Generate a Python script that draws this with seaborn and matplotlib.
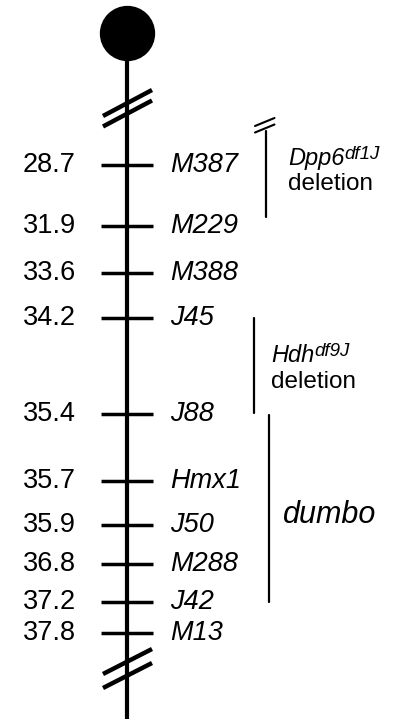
import matplotlib
matplotlib.use("Agg")
import matplotlib.pyplot as plt
import seaborn as sns
import pandas as pd

# marker data (cM position, name) and schematic row on the drawing
cm_pos = ["28.7", "31.9", "33.6", "34.2", "35.4", "35.7", "35.9", "36.8", "37.2", "37.8"]
markers = ["M387", "M229", "M388", "J45", "J88", "Hmx1", "J50", "M288", "J42", "M13"]
row_y = [165, 226, 273, 318, 414, 481, 525, 564, 602, 633]

# regions spanned on the map (start row, end row)
dpp6_span = (131, 217)
hdh_span = (318, 413)
dumbo_span = (415, 602)

sns.set_theme(style="white")
plt.rcParams["font.family"] = ["Liberation Sans", "DejaVu Sans"]
plt.rcParams["text.color"] = "black"

fig = plt.figure(figsize=(4.06, 7.19), dpi=100)
ax = fig.add_axes([0, 0, 1, 1])
ax.set_xlim(0, 406)
ax.set_ylim(719, 0)
ax.axis("off")

chrom_x = 127
df = pd.DataFrame({"cM": cm_pos, "marker": markers, "y": row_y})

# chromosome body
sns.lineplot(x=[chrom_x, chrom_x], y=[35, 719], color="black", linewidth=3, ax=ax, estimator=None, sort=False)
# centromere
sns.scatterplot(x=[chrom_x], y=[33], s=1360, color="black", edgecolor="black", ax=ax, zorder=5)

# marker ticks
sns.scatterplot(data=df, x=[chrom_x] * len(df), y="y", marker="_", s=1400, linewidth=2.5,
                color="black", ax=ax, zorder=4)

for _, r in df.iterrows():
    ax.text(76, r["y"], r["cM"], ha="right", va="center", fontsize=19.5, color="black")
    ax.text(170, r["y"], r["marker"], ha="left", va="center", fontsize=19.5, style="italic", color="black")

# break symbols on the chromosome
for y0 in (116, 126.5):
    ax.plot([103, 152], [y0, y0 - 26], color="black", lw=3.2, solid_capstyle="butt")
for y0 in (674, 688):
    ax.plot([103, 152], [y0, y0 - 25], color="black", lw=3.2, solid_capstyle="butt")

# Dpp6 deletion
ax.plot([266.5, 266.5], dpp6_span, color="black", lw=1.6)
for y0 in (126, 132.5):
    ax.plot([255, 274.5], [y0, y0 - 8], color="black", lw=1.5)
t = ax.text(288, 165, "Dpp6", fontsize=17, style="italic", va="baseline", color="black")
ax.annotate("df1J", xy=(1, 0), xycoords=t, xytext=(0, 8), textcoords="offset points",
            fontsize=13.5, style="italic", va="baseline", color="black")
ax.text(288, 190, "deletion", fontsize=17.5, va="baseline", color="black")

# Hdh deletion
ax.plot([254, 254], hdh_span, color="black", lw=1.6)
t = ax.text(271, 362, "Hdh", fontsize=17, style="italic", va="baseline", color="black")
ax.annotate("df9J", xy=(1, 0), xycoords=t, xytext=(0, 8), textcoords="offset points",
            fontsize=13.5, style="italic", va="baseline", color="black")
ax.text(271, 388, "deletion", fontsize=17.5, va="baseline", color="black")

# dumbo
ax.plot([269, 269], dumbo_span, color="black", lw=1.6)
ax.text(283, 523, "dumbo", fontsize=22, style="italic", va="baseline", color="black")

fig.savefig("out.png", dpi=100)
